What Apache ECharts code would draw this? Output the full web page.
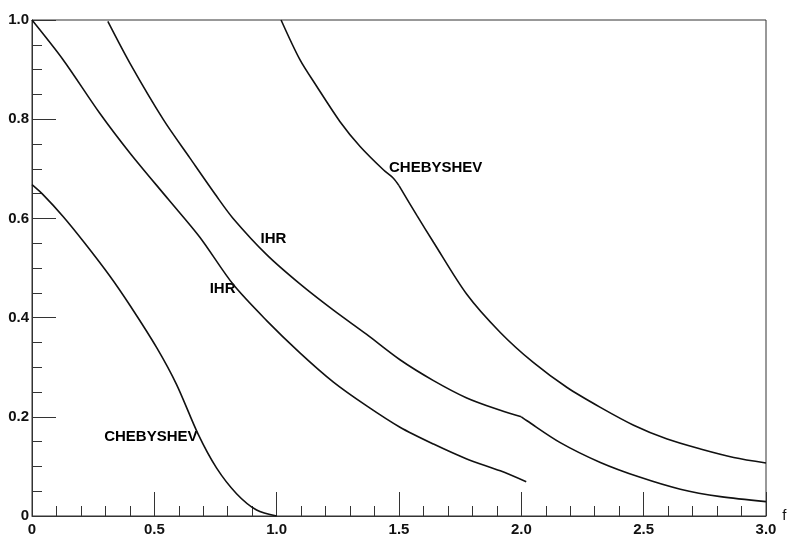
<!DOCTYPE html>
<html>
<head>
<meta charset="utf-8">
<script src="https://cdn.jsdelivr.net/npm/echarts@6/dist/echarts.min.js"></script>
<style>
html,body{margin:0;padding:0;background:#fff;}
#chart{width:793px;height:537px;}
</style>
</head>
<body>
<div id="chart"></div>
<script>
// ---- data ----
const xTicks = ['0', '0.5', '1.0', '1.5', '2.0', '2.5', '3.0'];
const yTicks = ['0', '0.2', '0.4', '0.6', '0.8', '1.0'];

const chebLowX = [0, 0.045, 0.127, 0.216, 0.318, 0.40, 0.509, 0.591, 0.679, 0.754, 0.836, 0.918, 1.0];
const chebLowY = [0.668, 0.648, 0.604, 0.550, 0.484, 0.425, 0.340, 0.265, 0.165, 0.097, 0.045, 0.012, 0];

const ihrLowX = [0, 0.127, 0.277, 0.40, 0.558, 0.686, 0.822, 0.959, 1.095, 1.232, 1.368, 1.504, 1.641, 1.777, 1.914, 2.02];
const ihrLowY = [1.0, 0.920, 0.812, 0.732, 0.638, 0.562, 0.467, 0.394, 0.329, 0.270, 0.222, 0.179, 0.145, 0.115, 0.091, 0.069];

const ihrUpX1 = [0.31, 0.40, 0.537, 0.645, 0.754, 0.822, 0.959, 1.095, 1.232, 1.368, 1.504, 1.641, 1.777, 1.914, 2.0];
const ihrUpY1 = [0.997, 0.913, 0.799, 0.722, 0.645, 0.600, 0.527, 0.468, 0.415, 0.366, 0.315, 0.273, 0.238, 0.213, 0.2];
const ihrUpX2 = [2.0, 2.023, 2.159, 2.323, 2.486, 2.65, 2.814, 3.0];
const ihrUpY2 = [0.2, 0.192, 0.148, 0.108, 0.078, 0.054, 0.039, 0.029];

const chebUpX1 = [1.018, 1.095, 1.164, 1.259, 1.341, 1.436, 1.477, 1.5];
const chebUpY1 = [1.0, 0.920, 0.866, 0.795, 0.745, 0.698, 0.681, 0.666];
const chebUpX2 = [1.5, 1.573, 1.641, 1.777, 1.914, 2.05, 2.187, 2.323, 2.459, 2.596, 2.732, 2.868, 3.0];
const chebUpY2 = [0.666, 0.606, 0.552, 0.447, 0.370, 0.309, 0.259, 0.219, 0.183, 0.155, 0.135, 0.118, 0.107];

const labelNames = ['CHEBYSHEV', 'CHEBYSHEV', 'IHR', 'IHR'];
const labelX = [1.457, 0.293, 0.932, 0.724];
const labelY = [0.702, 0.160, 0.559, 0.457];

// ---- build ----
function pairs(xs, ys) { return xs.map((x, i) => [x, ys[i]]); }
const lineStyle = { color: '#111', width: 1.6 };
function curve(xs, ys) {
  return {
    type: 'line', data: pairs(xs, ys), showSymbol: false, symbol: 'none',
    smooth: 0.3, lineStyle: lineStyle, silent: true, animation: false
  };
}
const fontFam = '"Liberation Sans", Arial, sans-serif';

const chart = echarts.init(document.getElementById('chart'));
chart.setOption({
  backgroundColor: '#fff',
  animation: false,
  grid: { left: 32, right: 27, top: 20, bottom: 20, show: true, borderColor: '#333', borderWidth: 1, backgroundColor: 'transparent' },
  xAxis: {
    type: 'value', min: 0, max: 3, interval: 0.5,
    name: 'f', nameLocation: 'end', nameGap: 14,
    nameTextStyle: { fontFamily: fontFam, fontSize: 15, color: '#111', verticalAlign: 'middle' },
    axisLine: { lineStyle: { color: '#333', width: 1 } },
    axisTick: { inside: true, length: 24, lineStyle: { color: '#333', width: 1 } },
    minorTick: { show: true, splitNumber: 5, length: 10, lineStyle: { color: '#333', width: 1 } },
    splitLine: { show: false },
    axisLabel: {
      margin: 6, fontFamily: fontFam, fontWeight: 'bold', fontSize: 15, color: '#111',
      formatter: (v) => xTicks[Math.round(v / 0.5)]
    }
  },
  yAxis: {
    type: 'value', min: 0, max: 1, interval: 0.2,
    axisLine: { lineStyle: { color: '#333', width: 1 } },
    axisTick: { inside: true, length: 24, lineStyle: { color: '#333', width: 1 } },
    minorTick: { show: true, splitNumber: 4, length: 10, lineStyle: { color: '#333', width: 1 } },
    splitLine: { show: false },
    axisLabel: {
      margin: 3, fontFamily: fontFam, fontWeight: 'bold', fontSize: 15, color: '#111',
      formatter: (v) => yTicks[Math.round(v / 0.2)]
    }
  },
  series: [
    curve(chebLowX, chebLowY),
    curve(ihrLowX, ihrLowY),
    curve(ihrUpX1, ihrUpY1),
    curve(ihrUpX2, ihrUpY2),
    curve(chebUpX1, chebUpY1),
    curve(chebUpX2, chebUpY2),
    {
      type: 'scatter', symbolSize: 1, itemStyle: { color: 'rgba(0,0,0,0)', opacity: 1 }, silent: true,
      data: labelNames.map((n, i) => ({ name: n, value: [labelX[i], labelY[i]] })),
      label: {
        show: true, position: 'right', distance: 0, formatter: '{b}',
        fontFamily: fontFam, fontWeight: 'bold', fontSize: 15, color: '#000',
        align: 'left', verticalAlign: 'middle'
      }
    }
  ]
});
</script>
</body>
</html>
